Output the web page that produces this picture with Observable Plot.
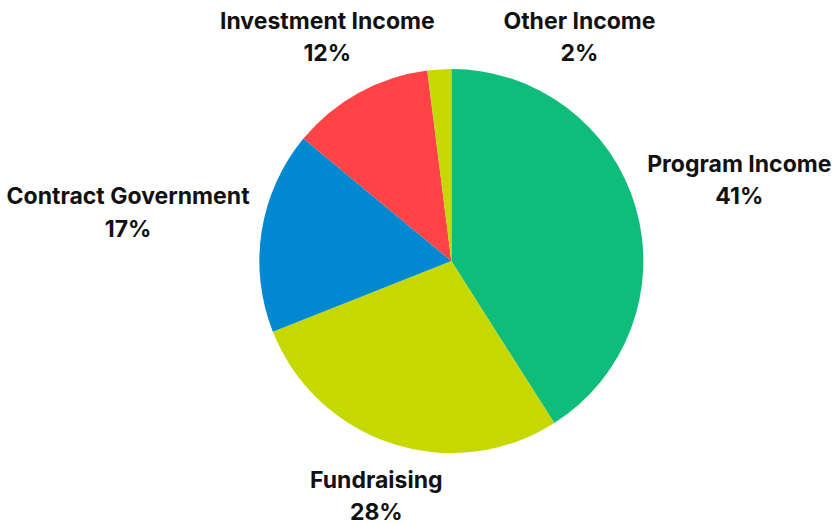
<!DOCTYPE html>
<html>
<head>
<meta charset="utf-8">
<script src="https://cdn.jsdelivr.net/npm/d3@7"></script>
<script src="https://cdn.jsdelivr.net/npm/@observablehq/plot@0.6"></script>
<style>
  html, body { margin: 0; padding: 0; background: #ffffff; }
  #chart svg { display: block; }
</style>
</head>
<body>
<div id="chart"></div>
<script>
// ---- Data ----
const categories = ["Program Income", "Fundraising", "Contract Government", "Investment Income", "Other Income"];
const shares = [41, 28, 17, 12, 2];
const sliceColors = ["#0fbd7a", "#c5d900", "#0088d1", "#ff4346", "#c5d900"];

// ---- Layout constants ----
const W = 837, H = 525;
const R = 192, CY = 261;
const FONT_SIZE = 23, LINE_HEIGHT = 1.4, FONT_FAMILY = "Inter, 'Noto Sans', sans-serif", FONT_WEIGHT = 700;
const GAP = 12, TOP = 10, BOTTOM = 518, PAD = 64;

const data = categories.map((name, i) => ({name, value: shares[i]}));
const arcs = d3.pie().value(d => d.value).sort(null)(data);

const color = Plot.scale({color: {type: "ordinal", domain: categories, range: sliceColors}});

// measure text
const ctx = document.createElement("canvas").getContext("2d");
ctx.font = `${FONT_WEIGHT} ${FONT_SIZE}px Inter`;
const measure = s => ctx.measureText(s).width;

function place(theta, w, h) {
  const ux = Math.sin(theta), uy = -Math.cos(theta);
  let d = R + GAP + (w / 2) * Math.abs(ux) + (h / 2) * Math.abs(uy);
  let y = uy * d;
  if (CY + y - h / 2 < TOP && uy < 0) d = (CY - TOP - h / 2) / (-uy);
  else if (CY + y + h / 2 > BOTTOM && uy > 0) d = (BOTTOM - h / 2 - CY) / uy;
  return {x: ux * d, y: uy * d, w, h};
}
function overlaps(a, b) {
  return Math.abs(a.x - b.x) < (a.w + b.w) / 2 + PAD && Math.abs(a.y - b.y) < (a.h + b.h) / 2;
}

const placed = [];
const labels = arcs.map(a => {
  const name = a.data.name, pct = `${a.data.value}%`;
  const w = Math.max(measure(name), measure(pct));
  const h = FONT_SIZE * LINE_HEIGHT + FONT_SIZE * 0.73;
  let theta = (a.startAngle + a.endAngle) / 2;
  let box = place(theta, w, h);
  let steps = 0;
  while (placed.some(p => overlaps(p, box)) && steps < 120) {
    theta += Math.PI / 180;
    box = place(theta, w, h);
    steps++;
  }
  placed.push(box);
  return {name, value: a.data.value, ...box};
});

// center the pie + labels horizontally
const minX = d3.min(labels, d => d.x - d.w / 2);
const maxX = d3.max(labels, d => d.x + d.w / 2);
const CX = W / 2 - (minX + maxX) / 2;

labels.forEach(d => { d.lx = d.x / R; d.ly = -d.y / R; });

function pieMark(index, scales) {
  const cx0 = scales.x(0), cy0 = scales.y(0), r = scales.x(1) - scales.x(0);
  const arc = d3.arc().innerRadius(0).outerRadius(r);
  const g = d3.create("svg:g").attr("transform", `translate(${cx0},${cy0})`);
  g.selectAll("path").data(arcs).join("path")
    .attr("d", arc)
    .attr("fill", d => color.apply(d.data.name));
  return g.node();
}

const chart = Plot.plot({
  width: W,
  height: H,
  margin: 0,
  style: {background: "#ffffff", overflow: "visible"},
  x: {domain: [-1, 1], range: [CX - R, CX + R], axis: null},
  y: {domain: [-1, 1], range: [CY + R, CY - R], axis: null},
  marks: [
    pieMark,
    Plot.text(labels, {
      x: "lx",
      y: "ly",
      text: d => `${d.name}\n${d.value}%`,
      fontSize: FONT_SIZE,
      fontWeight: FONT_WEIGHT,
      fontFamily: FONT_FAMILY,
      lineHeight: LINE_HEIGHT,
      fill: "#111111"
    })
  ]
});
document.getElementById("chart").append(chart);
</script>
</body>
</html>
